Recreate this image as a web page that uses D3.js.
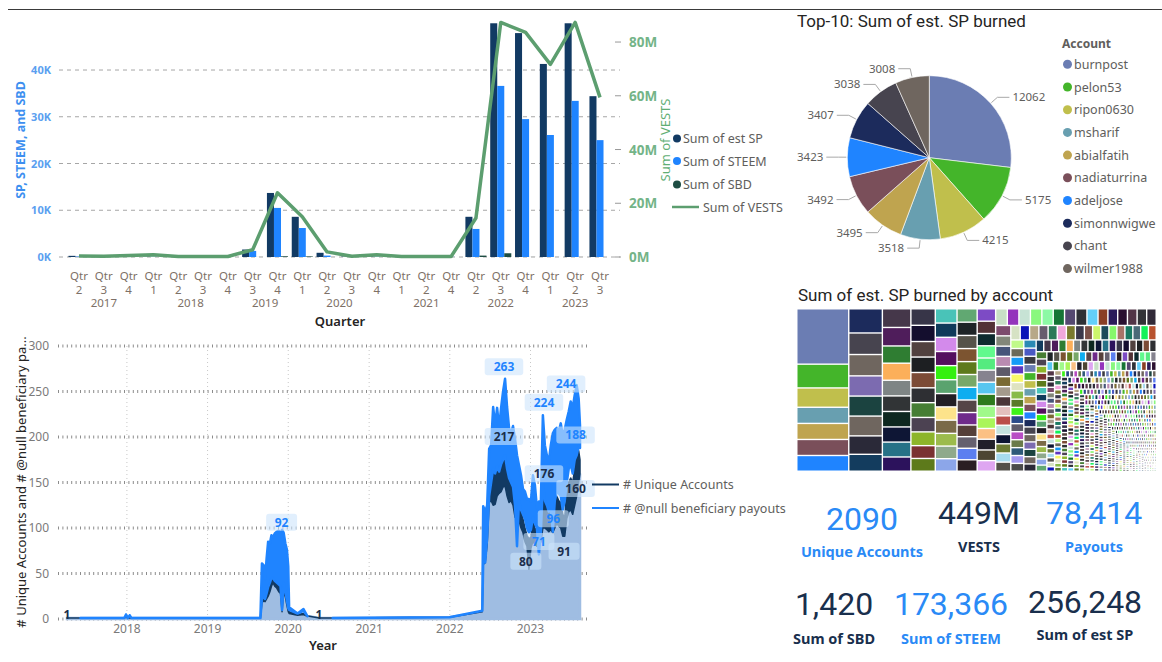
<!DOCTYPE html>
<html>
<head>
<meta charset="utf-8">
<script src="https://cdn.jsdelivr.net/npm/d3@7"></script>
<style>
  body { margin: 0; background: #fff; }
  svg text { font-family: "Noto Sans", "Open Sans", sans-serif; }
  .din { font-family: Roboto, sans-serif; }
</style>
</head>
<body>
<svg id="dash" width="1162" height="662"></svg>
<script>
  // ---------- quarterly bars ----------
  const qYears = ["2017","2017","2017","2018","2018","2018","2018","2019","2019","2020","2020","2020","2020","2021","2021","2021","2022","2022","2022","2023","2023","2023"];
  const qNums  = [2,3,4,1,2,3,4,3,4,1,2,3,4,1,2,4,2,3,4,1,2,3];
  const estSP  = [250,60,80,90,40,40,50,1600,13700,8600,900,100,120,60,50,40,8600,50000,47900,41300,50000,34400];
  const steem  = [100,30,40,60,20,20,30,1300,10500,6200,300,60,80,40,30,30,6000,36600,29500,26100,33400,25000];
  const sbd    = [5,0,0,5,0,0,0,10,150,120,10,0,0,0,0,0,300,800,10,5,5,0];
  const vestsM = [0.4,0.3,0.6,0.8,0.2,0.2,0.2,2.7,23.9,15.0,1.9,0.3,0.8,0.2,0.2,0.2,14.5,87.3,83.6,71.7,87.3,59.4];
  const leftTicks = [0,10000,20000,30000,40000];
  const rightTicks = [0,20,40,60,80];

  // ---------- top 10 pie ----------
  const topAccounts = ["burnpost","pelon53","ripon0630","msharif","abialfatih","nadiaturrina","adeljose","simonnwigwe","chant","wilmer1988"];
  const topBurned = [12062,5175,4215,3518,3495,3492,3423,3407,3038,3008];
  const topColors = ["#6b7db3","#44b52a","#c0bf4c","#689fb0","#bfa44f","#7a4f5a","#1f84ff","#1c2b5c","#47444f","#6f665f"];

  // ---------- treemap: remaining accounts (est. SP, read approx. from cell sizes) ----------
  const otherBurned = [
    2850,2820,2790,2600,2380,
    2230,2210,2060,2040,1870,1860,1850,1810,1780,
    1700,1690,1660,1590,1580,1570,1520,1510,1480,1410,
    1310,1305,1300,1298,1295,1290,1285,1260,1215,1210,1205,
    1160,1150,1140,1130,1120,1110,1100,1090,1080,1070,1060,1050,
    990,980,970,965,960,955,950,945,940,935,925,915,905,
    840,835,830,825,820,815,810,805,800,795,790,785,780,775,
    690,685,680,675,670,665,660,655,650,645,640,635,630,625,
    600,596,592,588,584,580,576,572,568,564,560,556,552,548,544,
    500,496,492,488,484,480,476,472,470,468,466,464,462,460,458,
    452,448,445,442,439,436,433,430,428,426,424,422,420,418,416,
    410,406,402,398,395,392,389,386,383,380,378,376,374,372,370,368,
    362,358,354,350,347,344,341,338,335,332,330,328,326,324,322,320,318,316,
    310,306,302,298,295,292,289,286,283,280,278,276,274,272,270,268,266,264,262,260,
    255,252,249,246,243,240,238,236,234,232,230,228,226,224,222,220,218,216,214,212,210,208,
    204,201,198,195,192,190,188,186,184,182,180,178,176,174,172,170,168,166,164,162,160,158,156,154,152,
    149,147,145,143,141,139,137,135,133,131,130,129,128,127,126,125,124,123,122,121,120,119,118,117,116,115,114,113,112,111,
    109,109,109,109,109,108,108,108,108,108,107,107,107,107,107,106,106,106,106,106,105,105,105,105,105,
    104,104,104,104,104,103,103,103,103,103,102,102,102,102,102,101,101,101,101,101,100,100,100,100,100,
    99,99,99,99,99,98,98,98,98,98,97,97,97,97,97,96,96,96,96,96,95,95,95,95,95,
    94,94,94,94,94,93,93,93,93,93,92,92,92,92,92,91,91,91,91,91,90,90,90,90,90,
    89,89,89,89,89,88,88,88,88,88,87,87,87,87,87,86,86,86,86,86,85,85,85,85,85,
    84,84,84,84,84,83,83,83,83,83,82,82,82,82,82,81,81,81,81,81,80,80,80,80,80,
    79,79,79,79,79,78,78,78,78,78,77,77,77,77,77,76,76,76,76,76,75,75,75,75,75,
    74,74,74,74,74,73,73,73,73,73,72,72,72,72,72,71,71,71,71,71,70,70,70,70,70,
    69,69,69,69,69,69,68,68,68,68,68,68,67,67,67,67,67,67,66,66,66,66,66,66,65,65,65,65,65,65,
    64,64,64,64,64,64,63,63,63,63,63,63,62,62,62,62,62,62,61,61,61,61,61,61,60,60,60,60,60,60,
    59,59,59,59,59,59,58,58,58,58,58,58,57,57,57,57,57,57,56,56,56,56,56,56,55,55,55,55,55,55,
    54,54,54,54,54,54,54,54,54,54,53,53,53,53,53,53,53,53,53,53,52,52,52,52,52,52,52,52,52,52,
    51,51,51,51,51,51,51,51,51,51,50,50,50,50,50,50,50,50,50,50,49,49,49,49,49,49,49,49,49,49,
    48,48,48,48,48,48,48,48,48,48,47,47,47,47,47,47,47,47,47,47,46,46,46,46,46,46,46,46,46,46,
    45,45,45,45,45,45,45,45,45,45,
    44,44,44,44,44,44,44,44,44,44,44,44,43,43,43,43,43,43,43,43,43,43,43,43,
    42,42,42,42,42,42,42,42,42,42,42,42,41,41,41,41,41,41,41,41,41,41,41,41,
    40,40,40,40,40,40,40,40,40,40,40,40,39,39,39,39,39,39,39,39,39,39,39,39,
    38,38,38,38,38,38,38,38,38,38,38,38,37,37,37,37,37,37,37,37,37,37,37,37,
    36,36,36,36,36,36,36,36,36,36,36,36,35,35,35,35,35,35,35,35,35,35,35,35,
    34,34,34,34,34,34,34,34,34,34,34,34,34,34,33,33,33,33,33,33,33,33,33,33,33,33,33,33,
    32,32,32,32,32,32,32,32,32,32,32,32,32,32,31,31,31,31,31,31,31,31,31,31,31,31,31,31,
    30,30,30,30,30,30,30,30,30,30,30,30,30,30,29,29,29,29,29,29,29,29,29,29,29,29,29,29,
    28,28,28,28,28,28,28,28,28,28,28,28,28,28,27,27,27,27,27,27,27,27,27,27,27,27,27,27,
    26,26,26,26,26,26,26,26,26,26,26,26,26,26,25,25,25,25,25,25,25,25,25,25,25,25,25,25,
    24,24,24,24,24,24,24,24,24,24,24,24,24,24,24,24,23,23,23,23,23,23,23,23,23,23,23,23,23,23,23,23,
    22,22,22,22,22,22,22,22,22,22,22,22,22,22,22,22,21,21,21,21,21,21,21,21,21,21,21,21,21,21,21,21,
    20,20,20,20,20,20,20,20,20,20,20,20,20,20,20,20,19,19,19,19,19,19,19,19,19,19,19,19,19,19,19,19,
    18,18,18,18,18,18,18,18,18,18,18,18,18,18,18,18
  ];
  const otherColors = [
    "#7c6bb0","#1b4340","#6f665f","#2a2938","#133c5e",
    "#45374a","#4f1d5b","#2f7d32","#fcaf5a","#7e8585","#313436","#0e2820","#0e1635","#277287",
    "#2c125c","#373548","#140e2e","#51413f","#1d1f22","#7c4b36","#2e2f33","#467e34","#4c4252","#8db52a",
    "#7a3132","#5d7a1b","#49c3b8","#0f3a5a","#d38aeb","#540f5e","#34f00f","#5aa36e","#221e25","#fde38b","#7a6a48",
    "#9cbb4c","#8fa98c","#8ca6e9","#61a872","#1e2427","#55534a","#7c5430","#5e7a1c","#78a868","#0fadf0","#554547","#6f2a8a",
    "#553f3a","#65606f","#5c7ff0","#2a1e22","#7d4bc5","#523236","#0d2a2e","#61f98d","#55eb7f","#86838f","#58c6f0","#2e7a1c","#a0f98a",
    "#aaf55a","#fbc084","#201f2a","#4d4532","#dea6f1","#c8e0c6","#9434bc","#c7e3d5","#89f87e","#8cf9a5","#167535","#554971","#2e3036","#63cff9",
    "#8a3f25","#2b1c5a","#2a0f2f","#523547","#333338","#312a38","#7c4b6d","#82877a","#46557a","#b98bb1","#5d5a69","#7a6a33","#a49a8c","#4b3538",
    "#e3bfbe","#bb4e4b","#c5e3e0","#0d1533","#6c7a34","#a7dbef","#53504a","#d6e2c4","#0b14b8","#b7a888","#675c6e","#2d7a58","#f1a8dc","#7a7a2e","#3a384a",
    "#7a5048","#ccf56b","#1d4a5a","#86f76b","#a87468","#1a7a63","#4a6a78","#12f25a","#b8522e","#c0f98a","#6b6a5a","#159cf7","#5e37c0","#f8f86a",
    "#dfe3c0","#88bb4a","#5a7a2a","#3df21a","#2a4a8a","#5e5a6a","#b84ec4","#6a7a4a","#2e5a7a","#a49af0","#4a4a4a","#2a8ab4","#4a5ac4","#3a3a40"
  ];

  // ---------- daily activity (envelopes) ----------
  const dayDates = [
    "2017-04-05","2017-06-01","2017-06-05","2017-12-20","2017-12-28","2018-01-05","2018-01-14","2018-01-22","2019-08-28",
    "2019-09-04","2019-09-12","2019-09-18","2019-09-25","2019-10-02","2019-10-10","2019-10-17","2019-10-24","2019-11-01","2019-11-10",
    "2019-11-19","2019-11-27","2019-12-04","2019-12-11","2019-12-19","2019-12-26","2020-01-01","2020-01-05","2020-02-12","2020-03-10",
    "2020-03-28","2020-04-05","2020-05-20","2020-07-18","2020-07-20","2021-12-31","2022-05-28",
    "2022-06-01","2022-06-10","2022-06-19","2022-06-28","2022-07-07","2022-07-16","2022-07-25","2022-08-03","2022-08-12","2022-08-21",
    "2022-08-30","2022-09-08","2022-09-17","2022-09-26","2022-10-05","2022-10-14","2022-10-23","2022-11-01","2022-11-10","2022-11-19",
    "2022-11-28","2022-12-07","2022-12-16","2022-12-25","2023-01-03","2023-01-12","2023-01-21","2023-01-30","2023-02-08","2023-02-17",
    "2023-02-26","2023-03-07","2023-03-16","2023-03-25","2023-04-03","2023-04-12","2023-04-21","2023-04-30","2023-05-09","2023-05-18",
    "2023-05-27","2023-06-05","2023-06-14","2023-06-23","2023-07-02","2023-07-11","2023-07-20","2023-07-29","2023-08-07","2023-08-13"
  ];
  const payoutsHigh = [
    null,null,1,1,5,1,4,1,1,
    61,59,44,66,85,83,92,90,94,96,97,94,98,95,83,76,58,13,6,11,
    3,null,null,null,1,2,9,
    124,118,125,187,191,233,213,232,210,232,250,264,233,210,204,212,198,180,169,158,
    143,140,132,132,129,158,147,122,129,129,224,191,180,173,191,204,208,210,206,215,
    202,208,219,228,239,232,246,257,242,213
  ];
  const payoutsLow = [
    null,null,1,1,5,1,4,1,1,
    22,25,22,28,35,40,45,45,42,40,38,36,10,40,30,20,12,10,6,9,
    3,null,null,null,1,2,9,
    62,62,90,135,150,165,160,168,162,170,175,180,165,155,150,145,125,80,130,120,
    115,110,100,95,98,112,105,100,71,95,150,130,125,118,120,96,130,140,138,135,
    120,130,150,165,170,160,175,180,190,188
  ];
  const accountsHigh = [
    1,1,1,1,3,1,2,1,1,
    24,26,25,30,34,40,46,56,48,42,40,38,22,42,35,40,15,8,5,6,
    3,3,1,1,1,2,8,
    70,75,95,140,150,165,160,168,162,170,180,185,170,160,155,150,135,130,125,118,
    110,100,92,88,90,108,100,95,90,100,150,140,130,125,125,120,128,135,130,128,
    115,112,140,150,155,150,165,180,185,175
  ];
  const accountsLow = [
    1,1,1,1,2,1,1,1,1,
    18,20,19,22,25,30,36,40,36,34,30,28,8,30,24,15,8,6,4,5,
    3,3,1,1,1,2,8,
    60,62,82,128,130,125,126,135,138,140,145,146,135,128,130,125,112,110,108,100,
    95,85,80,55,78,85,82,80,80,85,100,100,98,96,98,95,100,105,102,100,
    91,91,110,118,120,115,125,135,150,160
  ];
  // data labels: [date, value, series]
  const dayLabels = [
    ["2017-04-05",1,"acc"],["2019-12-02",92,"pay"],["2020-05-19",1,"acc"],
    ["2022-09-03",263,"pay"],["2022-09-03",217,"acc"],["2022-12-11",80,"acc"],
    ["2023-02-08",71,"pay"],["2023-03-03",224,"pay"],["2023-03-03",176,"acc"],
    ["2023-04-14",96,"pay"],["2023-06-02",91,"acc"],["2023-06-11",244,"pay"],
    ["2023-07-24",188,"pay"],["2023-07-24",160,"acc"]
  ];
  const yearTicks = ["2018","2019","2020","2021","2022","2023"];
  const countTicks = [0,50,100,150,200,250,300];

  // ---------- cards ----------
  const kpiValues = ["2090","449M","78,414","1,420","173,366","256,248"];
  const kpiLabels = ["Unique Accounts","VESTS","Payouts","Sum of SBD","Sum of STEEM","Sum of est SP"];

  const BLUE = "#1f84ff", NAVY = "#123a63", DGREEN = "#1e4d43", GREEN = "#5c9e6f";
  const GREY = "#605e5c", DARK = "#252423";

  const svg = d3.select("#dash");

  svg.append("line").attr("x1", 8).attr("x2", 1162).attr("y1", 9.5).attr("y2", 9.5)
    .attr("stroke", "#3a3a3a").attr("stroke-width", 1.2);

  // ================= bar + line combo =================
  const qKeys = qYears.map((y, i) => y + " Q" + qNums[i]);
  const xQ = d3.scaleBand().domain(qKeys).range([66.6, 612.4]).paddingInner(0.15).paddingOuter(0.075);
  const sub = d3.scaleBand().domain(["sp","steem","sbd"]).range([0, xQ.bandwidth()]);
  const yL = d3.scaleLinear().domain([0, 50700]).range([257, 20]);
  const yR = d3.scaleLinear().domain([0, 88.2]).range([257, 20]);

  const combo = svg.append("g");
  combo.selectAll(".grid").data(leftTicks).join("line")
    .attr("x1", 59).attr("x2", 620).attr("y1", d => yL(d)).attr("y2", d => yL(d))
    .attr("stroke", "#a6a6a6").attr("stroke-dasharray", "4 4");
  combo.selectAll(".lt").data(leftTicks).join("text")
    .attr("x", 51).attr("y", d => yL(d) + 4).attr("text-anchor", "end")
    .attr("font-size", 11).attr("font-weight", 700).attr("fill", "#5b9ff0")
    .text(d => d / 1000 + "K");
  combo.selectAll(".rtick").data(rightTicks).join("line")
    .attr("x1", 615).attr("x2", 621).attr("y1", d => yR(d)).attr("y2", d => yR(d))
    .attr("stroke", "#999");
  combo.selectAll(".rt").data(rightTicks).join("text")
    .attr("x", 629).attr("y", d => yR(d) + 5)
    .attr("font-size", 13.5).attr("font-weight", 700).attr("fill", "#74b488")
    .text(d => d + "M");

  const barSeries = [
    {key: "sp", vals: estSP, color: NAVY},
    {key: "steem", vals: steem, color: BLUE},
    {key: "sbd", vals: sbd, color: DGREEN}
  ];
  barSeries.forEach(s => {
    combo.append("g").selectAll("rect").data(s.vals).join("rect")
      .attr("x", (d, i) => xQ(qKeys[i]) + sub(s.key))
      .attr("width", sub.bandwidth())
      .attr("y", d => yL(d))
      .attr("height", d => yL(0) - yL(d))
      .attr("fill", s.color);
  });

  combo.append("path").datum(vestsM)
    .attr("fill", "none").attr("stroke", GREEN).attr("stroke-width", 3.5)
    .attr("stroke-linejoin", "round")
    .attr("d", d3.line().x((d, i) => xQ(qKeys[i]) + xQ.bandwidth() / 2).y(d => yR(d)));

  const qx = i => xQ(qKeys[i]) + xQ.bandwidth() / 2;
  combo.selectAll(".qt").data(qNums).join("text")
    .attr("x", (d, i) => qx(i)).attr("y", 280).attr("text-anchor", "middle")
    .attr("font-size", 11.5).attr("fill", "#7d7066").text("Qtr");
  combo.selectAll(".qn").data(qNums).join("text")
    .attr("x", (d, i) => qx(i)).attr("y", 294).attr("text-anchor", "middle")
    .attr("font-size", 11.5).attr("fill", "#7d7066").text(d => d);
  const yearGroups = d3.groups(qYears.map((y, i) => [y, qx(i)]), d => d[0]);
  combo.selectAll(".qy").data(yearGroups).join("text")
    .attr("x", d => d3.mean(d[1], e => e[1])).attr("y", 307).attr("text-anchor", "middle")
    .attr("font-size", 11.5).attr("fill", "#7d7066").text(d => d[0]);
  combo.append("text").attr("x", 340).attr("y", 326).attr("text-anchor", "middle")
    .attr("font-size", 13).attr("font-weight", 600).attr("fill", DARK).text("Quarter");

  combo.append("text").attr("transform", "translate(25,140) rotate(-90)")
    .attr("text-anchor", "middle").attr("font-size", 12.5).attr("font-weight", 700)
    .attr("fill", "#3d8ff0").text("SP, STEEM, and SBD");
  combo.append("text").attr("transform", "translate(670,140) rotate(-90)")
    .attr("text-anchor", "middle").attr("font-size", 13).attr("fill", "#5fae74").text("Sum of VESTS");

  const comboLegend = ["Sum of est SP", "Sum of STEEM", "Sum of SBD"];
  comboLegend.forEach((name, i) => {
    const cy = [138.5, 161, 184.5][i];
    combo.append("circle").attr("cx", 677).attr("cy", cy).attr("r", 4).attr("fill", barSeries[i].color);
    combo.append("text").attr("x", 683).attr("y", cy + 4.5).attr("font-size", 12.5).attr("fill", GREY).text(name);
  });
  combo.append("line").attr("x1", 672).attr("x2", 699).attr("y1", 207).attr("y2", 207)
    .attr("stroke", GREEN).attr("stroke-width", 2.5);
  combo.append("text").attr("x", 703).attr("y", 211.5).attr("font-size", 12.5).attr("fill", GREY).text("Sum of VESTS");

  // ================= pie =================
  const pieG = svg.append("g");
  pieG.append("text").attr("class", "din").attr("x", 797).attr("y", 27)
    .attr("font-size", 17).attr("font-weight", 400).attr("fill", DARK)
    .text("Top-10: Sum of est. SP burned");
  const cx = 929.3, cy = 157.7, R = 82;
  const arcs = d3.pie().sort(null).value(d => d)(topBurned);
  const arc = d3.arc().innerRadius(0).outerRadius(R);
  pieG.append("g").attr("transform", `translate(${cx},${cy})`)
    .selectAll("path").data(arcs).join("path")
    .attr("d", arc).attr("fill", (d, i) => topColors[i])
    .attr("stroke", "#fff").attr("stroke-width", 0.6);
  arcs.forEach(a => {
    const m = (a.startAngle + a.endAngle) / 2;
    const s = Math.sin(m), c = -Math.cos(m);
    const p1 = [cx + s * (R + 1), cy + c * (R + 1)];
    const p2 = [cx + s * (R + 9), cy + c * (R + 9)];
    const dir = s >= 0 ? 1 : -1;
    const p3 = [p2[0] + dir * 12, p2[1]];
    pieG.append("polyline").attr("points", [p1, p2, p3].map(p => p.join(",")).join(" "))
      .attr("fill", "none").attr("stroke", "#a8a8a8").attr("stroke-width", 1);
    pieG.append("text").attr("x", p3[0] + dir * 3).attr("y", p3[1] + 4)
      .attr("text-anchor", dir > 0 ? "start" : "end")
      .attr("font-size", 11.5).attr("fill", GREY).text(a.data);
  });
  pieG.append("text").attr("x", 1062).attr("y", 48).attr("font-size", 12)
    .attr("font-weight", 700).attr("fill", GREY).text("Account");
  topAccounts.forEach((name, i) => {
    const ly = 64.3 + i * 22.7;
    pieG.append("circle").attr("cx", 1067.5).attr("cy", ly).attr("r", 4.5).attr("fill", topColors[i]);
    pieG.append("text").attr("x", 1074).attr("y", ly + 4.5).attr("font-size", 12.5).attr("fill", GREY).text(name);
  });

  // ================= treemap =================
  const tmG = svg.append("g");
  tmG.append("text").attr("class", "din").attr("x", 798).attr("y", 301)
    .attr("font-size", 17).attr("font-weight", 400).attr("fill", DARK)
    .text("Sum of est. SP burned by account");
  const allBurned = topBurned.concat(otherBurned);
  const palette = topColors.concat(otherColors);
  const root = d3.hierarchy({children: allBurned.map((v, i) => ({i, v}))}).sum(d => d.v || 0);
  d3.treemap().tile(d3.treemapSquarify).size([358, 161]).paddingInner(1.4)(root);
  tmG.append("g").attr("transform", "translate(797.5,309.5)")
    .selectAll("rect").data(root.leaves()).join("rect")
    .attr("x", d => d.x0).attr("y", d => d.y0)
    .attr("width", d => Math.max(0, d.x1 - d.x0)).attr("height", d => Math.max(0, d.y1 - d.y0))
    .attr("fill", d => palette[d.data.i % palette.length]);

  // ================= daily line chart =================
  const parse = d3.timeParse("%Y-%m-%d");
  const days = dayDates.map((d, i) => ({
    t: parse(d), ph: payoutsHigh[i], pl: payoutsLow[i], ah: accountsHigh[i], al: accountsLow[i]
  }));
  const xT = d3.scaleTime().domain(d3.extent(days, d => d.t)).range([67, 580]);
  const yC = d3.scaleLinear().domain([0, 300]).range([619, 346]);
  const lineG = svg.append("g");

  lineG.selectAll(".vg").data(yearTicks).join("line")
    .attr("x1", d => xT(parse(d + "-01-01"))).attr("x2", d => xT(parse(d + "-01-01")))
    .attr("y1", 346).attr("y2", 619)
    .attr("stroke", "#c8c8c8").attr("stroke-dasharray", "1 3");
  lineG.selectAll(".hg").data(countTicks).join("line")
    .attr("x1", 58).attr("x2", 589).attr("y1", d => yC(d)).attr("y2", d => yC(d))
    .attr("stroke", "#8c8c8c").attr("stroke-width", 3).attr("stroke-dasharray", "1 3.4");
  lineG.selectAll(".yl").data(countTicks).join("text")
    .attr("x", 49).attr("y", d => yC(d) + 4).attr("text-anchor", "end")
    .attr("font-size", 12).attr("fill", "#7a7a7a").text(d => d);
  lineG.selectAll(".xl").data(yearTicks).join("text")
    .attr("x", d => xT(parse(d + "-01-01"))).attr("y", 633).attr("text-anchor", "middle")
    .attr("font-size", 12).attr("fill", "#7a7a7a").text(d => d);
  lineG.append("text").attr("x", 323).attr("y", 650).attr("text-anchor", "middle")
    .attr("font-size", 13).attr("font-weight", 600).attr("fill", DARK).text("Year");
  lineG.append("text").attr("transform", "translate(26,482) rotate(-90)")
    .attr("text-anchor", "middle").attr("font-size", 13).attr("fill", DARK)
    .text("# Unique Accounts and # @null beneficiary pa...");

  const light = d3.area().defined(d => d.al != null)
    .x(d => xT(d.t)).y0(yC(0)).y1(d => yC(d.al));
  lineG.append("path").datum(days).attr("d", light)
    .attr("fill", "#9fbde2").attr("stroke", "#9fbde2").attr("stroke-width", 2.5);
  const accBand = d3.area().defined(d => d.ah != null)
    .x(d => xT(d.t)).y0(d => yC(d.al)).y1(d => yC(d.ah));
  lineG.append("path").datum(days).attr("d", accBand)
    .attr("fill", NAVY).attr("stroke", NAVY).attr("stroke-width", 1.5).attr("stroke-linejoin", "round");
  const payBand = d3.area().defined(d => d.ph != null)
    .x(d => xT(d.t)).y0(d => yC(d.pl)).y1(d => yC(d.ph));
  lineG.append("path").datum(days).attr("d", payBand)
    .attr("fill", BLUE).attr("stroke", BLUE).attr("stroke-width", 2.5).attr("stroke-linejoin", "round");

  dayLabels.forEach(([d, v, s]) => {
    const x = xT(parse(d));
    const isPay = s === "pay";
    const y = v < 5 ? yC(v) - 4 : (isPay ? yC(v) - 13 : yC(v) + 15);
    const txt = String(v);
    const w = txt.length * 7.5 + 16;
    if (v >= 5) {
      lineG.append("rect").attr("x", x - w / 2).attr("y", y - 8.5).attr("width", w).attr("height", 17)
        .attr("rx", 3).attr("fill", "rgba(205,228,252,0.6)");
    }
    lineG.append("text").attr("x", x).attr("y", y + 4.5).attr("text-anchor", "middle")
      .attr("font-size", 12).attr("font-weight", 700)
      .attr("fill", isPay ? BLUE : "#1a2e4c").text(txt);
  });

  [["# Unique Accounts", NAVY, 484.5], ["# @null beneficiary payouts", BLUE, 508]].forEach(([name, col, ly]) => {
    lineG.append("line").attr("x1", 592).attr("x2", 619).attr("y1", ly).attr("y2", ly)
      .attr("stroke", col).attr("stroke-width", 2);
    lineG.append("text").attr("x", 623).attr("y", ly + 4.5).attr("font-size", 12.5).attr("fill", GREY).text(name);
  });

  // ================= cards =================
  const cardX = [862, 979, 1094, 834, 951, 1085];
  const valY = [530, 524, 524, 615, 615, 613];
  const labY = [557, 552, 552, 644, 644, 640];
  const cardBlue = [true, false, true, false, true, false];
  kpiValues.forEach((v, i) => {
    const col = cardBlue[i] ? "#2a8af6" : "#192f4d";
    svg.append("text").attr("class", "din").attr("x", cardX[i]).attr("y", valY[i])
      .attr("text-anchor", "middle").attr("font-size", 32).attr("fill", col).text(v);
    svg.append("text").attr("x", cardX[i]).attr("y", labY[i])
      .attr("text-anchor", "middle").attr("font-size", 14.5).attr("font-weight", 700)
      .attr("fill", col).text(kpiLabels[i]);
  });
</script>
</body>
</html>
